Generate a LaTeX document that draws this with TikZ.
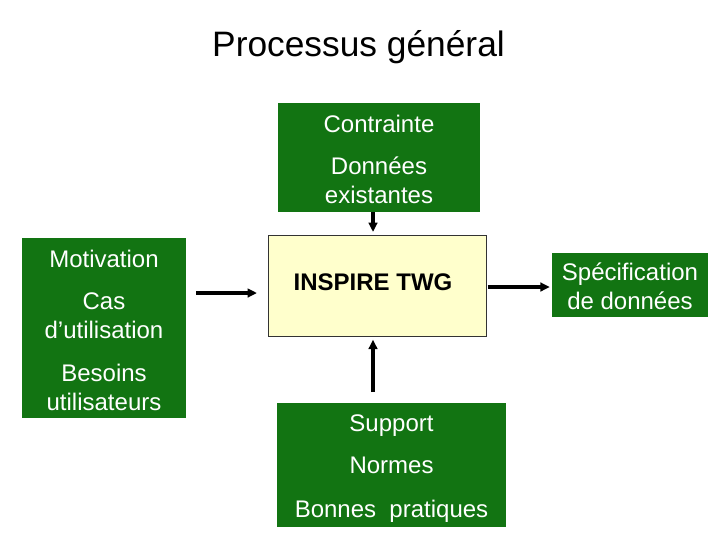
\documentclass[tikz,border=0pt]{standalone}
\usepackage{fontspec}
\setmainfont{Liberation Sans}
\usepackage{tikz}
\usetikzlibrary{arrows.meta, positioning, calc}
\definecolor{boxgreen}{RGB}{18,116,18}
\definecolor{paleyellow}{RGB}{255,255,204}

\begin{document}
\begin{tikzpicture}[
    x=0.75pt, y=-0.75pt,
    greenbox/.style={rectangle, fill=boxgreen, inner sep=0pt},
    boxtext/.style={
        text=white, inner sep=0pt, align=center,
        font=\fontsize{18}{21.75}\selectfont
    },
    mainbox/.style={
        rectangle, draw=black!80, line width=0.6pt, fill=paleyellow,
        inner sep=0pt
    },
    arr/.style={-{Triangle[length=7pt, width=6.5pt]}, line width=3pt, black}
]
\useasboundingbox (0,0) rectangle (720,540);

% Title
\node[anchor=base, font=\fontsize{26.5}{30}\selectfont] (title) at (358.5,56.5) {Processus général};

% INSPIRE TWG
\node[mainbox, minimum width=163.5pt, minimum height=75.75pt] (inspire) at (377,285.5) {};
\node[font=\fontsize{18}{21.75}\selectfont\bfseries] (twg) at (373,282.5) {INSPIRE TWG};

% Contrainte
\node[greenbox, minimum width=151.5pt, minimum height=81.75pt] (contrainte) at (379,157.5) {};
\node[boxtext] (contrainteText) at (379,159.5) {Contrainte\\[9.75pt]Données\\existantes};

% Motivation
\node[greenbox, minimum width=123pt, minimum height=135pt] (motivation) at (104,328) {};
\node[boxtext] (motivationText) at (104,330.5)
    {Motivation\\[9.75pt]Cas\\d’utilisation\\[10.5pt]Besoins\\utilisateurs};

% Specification
\node[greenbox, minimum width=117pt, minimum height=48pt] (spec) at (630,285) {};
\node[boxtext] (specText) at (630,286.5) {Spécification\\de données};

% Support
\node[greenbox, minimum width=171.75pt, minimum height=93pt] (support) at (391.5,465) {};
\node[boxtext] (supportText) at (391.5,468.5) {Support\\[9.75pt]Normes\\[11.25pt]Bonnes~ pratiques};

% Arrows
\draw[arr, shorten >=2pt] ([xshift=-4.5pt]contrainte.south) -- ([xshift=-3pt]inspire.north);
\draw[arr, shorten <=7.5pt, shorten >=8pt]
    ($(motivation.east |- inspire.west)+(0,7.5)$) -- ($(inspire.west)+(0,7.5)$);
\draw[arr, shorten <=1pt, shorten >=1.5pt] ($(inspire.east)+(0,1.5)$) -- ($(spec.west)+(0,2)$);
\draw[arr, shorten <=8pt, shorten >=2.5pt] ([xshift=-3pt]inspire.south |- support.north) -- ([xshift=-3pt]inspire.south);

\end{tikzpicture}
\end{document}
